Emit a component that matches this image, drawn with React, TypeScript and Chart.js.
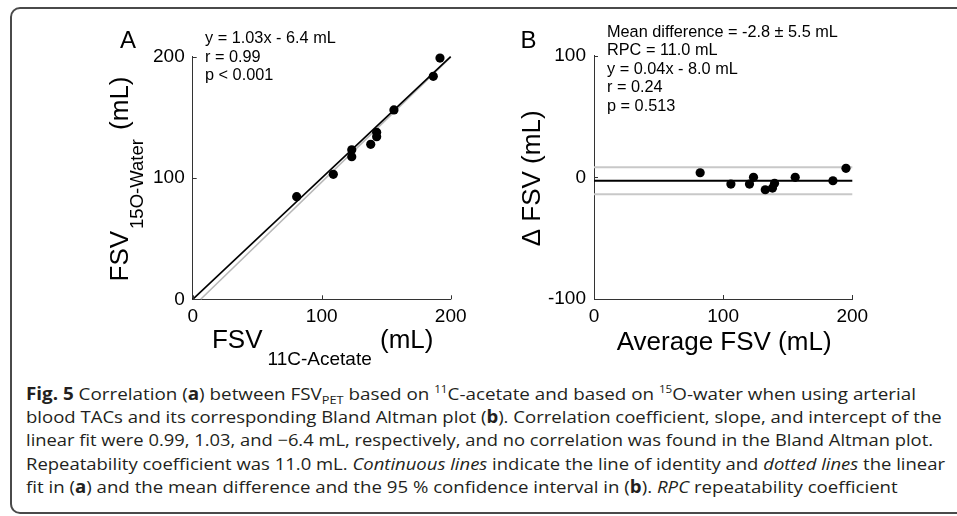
import React, { useEffect, useLayoutEffect, useRef } from "react";
import { Chart, registerables } from "chart.js";
Chart.register(...registerables);

const FONT = '"Liberation Sans", Arial, Helvetica, sans-serif';
const AXIS_COLOR = "#333333";

// ---- Panel A data: FSV 11C-acetate (x) vs FSV 15O-water (y), mL
const acetateFSV = [80.6, 109.0, 123.3, 123.3, 138.0, 142.6, 142.6, 156.0, 186.5, 191.7];
const waterFSV = [84.6, 103.0, 123.3, 117.6, 127.8, 137.7, 134.1, 156.1, 183.8, 198.9];
const identityX = [0, 200];
const identityY = [0, 200];
const fitX = [6.2, 200];
const fitY = [0, 199.6];
const xTicksA = [0, 100, 200];
const yTicksA = [0, 100, 200];
const annotationA = ["y = 1.03x - 6.4 mL", "r = 0.99", "p < 0.001"];

// ---- Panel B data: Bland-Altman
const averageFSV = [82.2, 106.0, 120.4, 123.5, 132.6, 138.2, 139.8, 155.8, 185.0, 195.1];
const deltaFSV = [3.8, -5.5, -5.5, 0.0, -10.2, -8.8, -4.9, 0.0, -2.8, 7.4];
const lineSpanX = [0, 200];
const meanDifference = -2.8;
const upperLimit = 8.2;
const lowerLimit = -13.8;
const xTicksB = [0, 100, 200];
const yTicksB = [-100, 0, 100];
const annotationB = [
  "Mean difference = -2.8 ± 5.5 mL",
  "RPC = 11.0 mL",
  "y = 0.04x - 8.0 mL",
  "r = 0.24",
  "p = 0.513",
];

type Seg = { text: string; size: number; dy?: number; gap?: number };

function drawSegs(ctx: CanvasRenderingContext2D, segs: Seg[], x: number, y: number, align: "left" | "center") {
  ctx.textAlign = "left";
  ctx.textBaseline = "alphabetic";
  let total = 0;
  const widths = segs.map((s) => {
    ctx.font = `${s.size}px ${FONT}`;
    const w = ctx.measureText(s.text).width;
    total += w + (s.gap || 0);
    return w;
  });
  let cx = align === "center" ? x - total / 2 : x;
  segs.forEach((s, i) => {
    cx += s.gap || 0;
    ctx.font = `${s.size}px ${FONT}`;
    ctx.fillText(s.text, cx, y + (s.dy || 0));
    cx += widths[i];
  });
}

type PanelCfg = {
  letter: string;
  letterDx: number;
  letterDy: number;
  notes: string[];
  notesDx: number;
  notesDy: number;
  notesStep: number;
  xTitle: Seg[];
  xTitleDy: number;
  yTitle: Seg[];
  yTitleDx: number;
};

function makePanelPlugin(cfg: PanelCfg) {
  return {
    id: "panelText",
    afterDraw(chart: any) {
      const { ctx, chartArea: ca, scales } = chart;
      const xs = scales.x;
      const ys = scales.y;
      ctx.save();
      // inward MATLAB-style ticks
      ctx.strokeStyle = AXIS_COLOR;
      ctx.lineWidth = 1;
      xs.ticks.forEach((t: any) => {
        const p = Math.round(xs.getPixelForValue(t.value)) + 0.5;
        ctx.beginPath();
        ctx.moveTo(p, ca.bottom);
        ctx.lineTo(p, ca.bottom - 4);
        ctx.stroke();
      });
      ys.ticks.forEach((t: any) => {
        const p = Math.round(ys.getPixelForValue(t.value)) + 0.5;
        ctx.beginPath();
        ctx.moveTo(ca.left, p);
        ctx.lineTo(ca.left + 4, p);
        ctx.stroke();
      });
      ctx.fillStyle = "#000";
      // panel letter
      ctx.font = `24px ${FONT}`;
      ctx.textAlign = "center";
      ctx.textBaseline = "alphabetic";
      ctx.fillText(cfg.letter, ca.left + cfg.letterDx, ca.top + cfg.letterDy);
      // annotations
      cfg.notes.forEach((n, i) => {
        drawSegs(ctx, [{ text: n, size: 16.3 }], ca.left + cfg.notesDx, ca.top + cfg.notesDy + i * cfg.notesStep, "left");
      });
      // x title
      drawSegs(ctx, cfg.xTitle, (ca.left + ca.right) / 2 + 1, ca.bottom + cfg.xTitleDy, "center");
      // y title (rotated)
      ctx.save();
      ctx.translate(ca.left + cfg.yTitleDx, (ca.top + ca.bottom) / 2 + 1);
      ctx.rotate(-Math.PI / 2);
      drawSegs(ctx, cfg.yTitle, 0, 0, "center");
      ctx.restore();
      ctx.restore();
    },
  };
}

function baseScales(xTicks: number[], yTicks: number[], yWidth: number, xHeight: number) {
  const tickFont = { family: FONT, size: 19 };
  return {
    x: {
      type: "linear" as const,
      min: xTicks[0],
      max: xTicks[xTicks.length - 1],
      afterBuildTicks: (s: any) => {
        s.ticks = xTicks.map((v) => ({ value: v }));
      },
      afterFit: (s: any) => {
        s.height = xHeight;
      },
      grid: { display: false },
      border: { display: true, color: AXIS_COLOR, width: 1 },
      ticks: { color: "#000", font: tickFont, padding: -2, maxRotation: 0, autoSkip: false },
    },
    y: {
      type: "linear" as const,
      min: yTicks[0],
      max: yTicks[yTicks.length - 1],
      afterBuildTicks: (s: any) => {
        s.ticks = yTicks.map((v) => ({ value: v }));
      },
      afterFit: (s: any) => {
        s.width = yWidth;
      },
      grid: { display: false },
      border: { display: true, color: AXIS_COLOR, width: 1 },
      ticks: { color: "#000", font: tickFont, padding: 0, autoSkip: false },
    },
  };
}

function pts(xs: number[], ys: number[]) {
  return xs.map((x, i) => ({ x, y: ys[i] }));
}

const captionLines: React.ReactNode[] = [
  <>
    <b>Fig. 5</b> Correlation (<b>a</b>) between FSV
    <span style={{ fontSize: "0.68em", position: "relative", top: "0.35em" }}>PET</span> based on{" "}
    <span style={{ fontSize: "0.62em", position: "relative", top: "-0.6em" }}>11</span>C-acetate and based on{" "}
    <span style={{ fontSize: "0.62em", position: "relative", top: "-0.6em" }}>15</span>O-water when using arterial
  </>,
  <>
    blood TACs and its corresponding Bland Altman plot (<b>b</b>). Correlation coefficient, slope, and intercept of the
  </>,
  <>linear fit were 0.99, 1.03, and −6.4 mL, respectively, and no correlation was found in the Bland Altman plot.</>,
  <>
    Repeatability coefficient was 11.0 mL. <i>Continuous lines</i> indicate the line of identity and <i>dotted lines</i> the
    linear
  </>,
  <>
    fit in (<b>a</b>) and the mean difference and the 95 % confidence interval in (<b>b</b>). <i>RPC</i> repeatability
    coefficient
  </>,
];
const captionTargetWidths = [890, 915.7, 907, 919, 871.7];

export default function App() {
  const canvasA = useRef<HTMLCanvasElement>(null);
  const canvasB = useRef<HTMLCanvasElement>(null);
  const lineRefs = useRef<(HTMLSpanElement | null)[]>([]);

  useLayoutEffect(() => {
    lineRefs.current.forEach((el, i) => {
      if (!el) return;
      el.style.transform = "none";
      const w = el.getBoundingClientRect().width;
      if (w > 0) el.style.transform = `scaleX(${captionTargetWidths[i] / w})`;
    });
  }, []);

  useEffect(() => {
    const chartA = new Chart(canvasA.current!, {
      type: "scatter",
      data: {
        datasets: [
          {
            data: pts(acetateFSV, waterFSV),
            pointRadius: 4.6,
            pointBackgroundColor: "#000",
            pointBorderColor: "#000",
            pointBorderWidth: 0,
            order: 0,
            clip: false,
          } as any,
          {
            data: pts(identityX, identityY),
            showLine: true,
            borderColor: "#000",
            borderWidth: 1.6,
            pointRadius: 0,
            order: 1,
            clip: false,
          },
          {
            data: pts(fitX, fitY),
            showLine: true,
            borderColor: "#b8b8b8",
            borderWidth: 1.6,
            pointRadius: 0,
            order: 2,
            clip: false,
          },
        ],
      },
      options: {
        animation: false,
        responsive: false,
        events: [],
        layout: { padding: { left: 0, top: 56.7, right: 27.3, bottom: 0 } },
        scales: baseScales(xTicksA, yTicksA, 192.7, 80.7) as any,
        plugins: { legend: { display: false }, tooltip: { enabled: false } },
      },
      plugins: [
        makePanelPlugin({
          letter: "A",
          letterDx: -64.7,
          letterDy: -8.4,
          notes: annotationA,
          notesDx: 12.3,
          notesDy: -13.4,
          notesStep: 18.3,
          xTitle: [
            { text: "FSV", size: 26 },
            { text: "11C-Acetate", size: 19, dy: 16.7, gap: 5 },
            { text: " (mL)", size: 26, gap: 1 },
          ],
          xTitleDy: 49,
          yTitle: [
            { text: "FSV", size: 26 },
            { text: "15O-Water", size: 18.5, dy: 15, gap: 2 },
            { text: " (mL)", size: 26, gap: 2 },
          ],
          yTitleDx: -64.4,
        }),
      ],
    });

    const chartB = new Chart(canvasB.current!, {
      type: "scatter",
      data: {
        datasets: [
          {
            data: pts(averageFSV, deltaFSV),
            pointRadius: 4.6,
            pointBackgroundColor: "#000",
            pointBorderColor: "#000",
            pointBorderWidth: 0,
            order: 0,
            clip: false,
          } as any,
          {
            data: pts(lineSpanX, [meanDifference, meanDifference]),
            showLine: true,
            borderColor: "#000",
            borderWidth: 2,
            pointRadius: 0,
            order: 1,
            clip: false,
          },
          {
            data: pts(lineSpanX, [upperLimit, upperLimit]),
            showLine: true,
            borderColor: "#c8c8c8",
            borderWidth: 2,
            pointRadius: 0,
            order: 2,
            clip: false,
          },
          {
            data: pts(lineSpanX, [lowerLimit, lowerLimit]),
            showLine: true,
            borderColor: "#c8c8c8",
            borderWidth: 2,
            pointRadius: 0,
            order: 2,
            clip: false,
          },
        ],
      },
      options: {
        animation: false,
        responsive: false,
        events: [],
        layout: { padding: { left: 0, top: 55.7, right: 104.7, bottom: 0 } },
        scales: baseScales(xTicksB, yTicksB, 116, 81) as any,
        plugins: { legend: { display: false }, tooltip: { enabled: false } },
      },
      plugins: [
        makePanelPlugin({
          letter: "B",
          letterDx: -65.5,
          letterDy: -7.4,
          notes: annotationB,
          notesDx: 13,
          notesDy: -19,
          notesStep: 18.5,
          xTitle: [{ text: "Average FSV (mL)", size: 26 }],
          xTitleDy: 51,
          yTitle: [{ text: "Δ FSV (mL)", size: 26 }],
          yTitleDx: -54,
        }),
      ],
    });

    return () => {
      chartA.destroy();
      chartB.destroy();
    };
  }, []);

  const captionBaselines = [400, 423.3, 446.6, 469.9, 493.2];

  return (
    <div
      style={{
        position: "absolute",
        left: 0,
        top: 0,
        width: 957,
        height: 516,
        overflow: "hidden",
        background: "#fff",
      }}
    >
      <div
        style={{
          position: "absolute",
          left: 10,
          top: 7,
          width: 1000,
          height: 503,
          border: "2px solid #4a4a4a",
          borderRadius: 10,
        }}
      />
      <canvas ref={canvasA} width={478} height={380} style={{ position: "absolute", left: 0, top: 0 }} />
      <canvas ref={canvasB} width={479} height={380} style={{ position: "absolute", left: 478, top: 0 }} />
      {captionLines.map((line, i) => (
        <div
          key={i}
          style={{
            position: "absolute",
            left: 26,
            top: captionBaselines[i] - 18.2,
            whiteSpace: "nowrap",
            fontFamily: '"Open Sans", "DejaVu Sans", sans-serif',
            fontSize: 17,
            lineHeight: "23.3px",
            color: "#231f20",
          }}
        >
          <span
            ref={(el) => {
              lineRefs.current[i] = el;
            }}
            style={{ display: "inline-block", transformOrigin: "0 0" }}
          >
            {line}
          </span>
        </div>
      ))}
    </div>
  );
}
